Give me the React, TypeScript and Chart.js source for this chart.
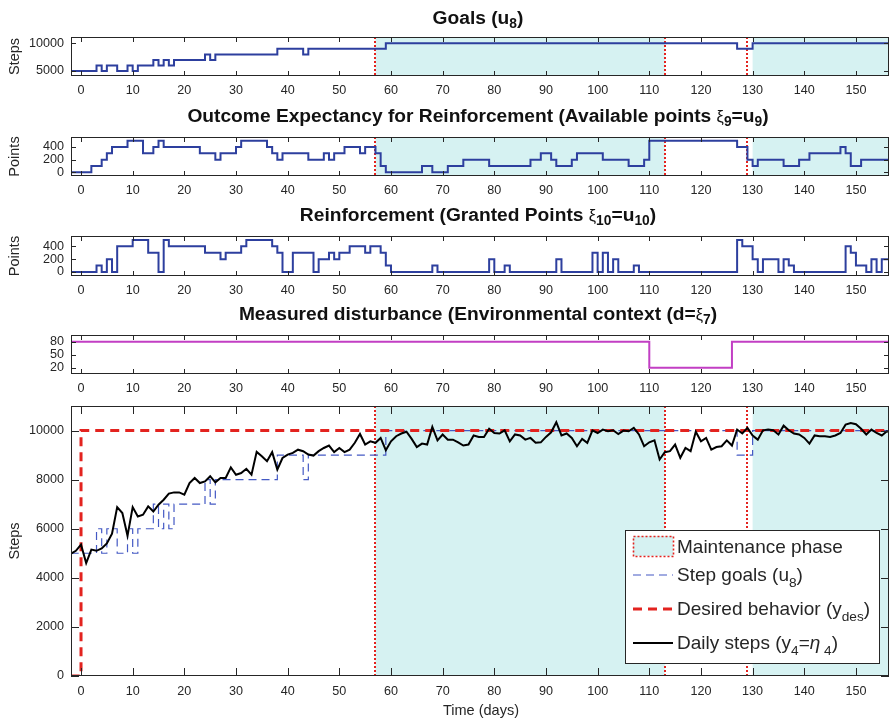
import React, { useEffect, useRef } from 'react';
import { Chart, registerables } from 'chart.js';
Chart.register(...registerables);

const FONT = '"Liberation Sans", Arial, Helvetica, sans-serif';
const INK = '#262626';
const BLUE = '#2d3f9e';
const BLUE_DASH = '#4459c4';
const MAGENTA = '#c23fc4';
const RED = '#e3231f';
const SHADE = '#d6f2f2';

const X_MIN = -1.94;
const X_MAX = 156.4;
const X_END = 157;
const xTickValues = [0, 10, 20, 30, 40, 50, 60, 70, 80, 90, 100, 110, 120, 130, 140, 150];
const maintenanceStart = [57, 130];
const maintenanceEnd = [113, 157];
const phaseLines = [57, 113, 129];

// Goals u8 (step changes: value holds from day until next day)
const goalDays = [-2, 3, 4, 5, 7, 9, 10, 11, 14, 15, 16, 17, 18, 24, 25, 26, 38, 43, 44, 59, 127, 130];
const goalValues = [5000, 6000, 5000, 6000, 5000, 6000, 5000, 6000, 7000, 6000, 7000, 6000, 7000, 8000, 7000, 8000, 9000, 8000, 9000, 10000, 9000, 10000];

// Outcome expectancy (available points)
const availDays = [-2, 2, 4, 5, 6, 9, 12, 14, 15, 16, 23, 26, 27, 30, 31, 36, 37, 38, 39, 44, 47, 48, 49, 51, 54, 55, 57, 58, 59, 66, 68, 71, 74, 79, 87, 89, 91, 92, 95, 96, 101, 106, 109, 110, 127, 129, 130, 131, 136, 139, 141, 147, 148, 149, 151];
const availValues = [0, 100, 200, 300, 400, 500, 300, 400, 500, 400, 300, 200, 300, 400, 500, 400, 300, 200, 300, 200, 300, 200, 300, 400, 300, 400, 300, 100, 0, 100, 0, 100, 200, 100, 200, 300, 200, 100, 200, 300, 200, 100, 200, 500, 400, 200, 100, 200, 100, 200, 300, 400, 300, 100, 200];

// Reinforcement (granted points)
const grantDays = [-2, 3, 4, 5, 6, 7, 10, 13, 15, 16, 17, 24, 27, 28, 31, 32, 37, 38, 39, 41, 45, 46, 48, 49, 50, 52, 55, 56, 58, 59, 60, 68, 69, 79, 80, 82, 83, 92, 93, 99, 100, 101, 102, 103, 104, 107, 108, 127, 128, 130, 131, 132, 135, 136, 137, 138, 148, 149, 150, 152, 153, 154, 155];
const grantValues = [0, 100, 0, 200, 0, 400, 500, 300, 0, 500, 400, 300, 200, 300, 400, 500, 400, 300, 0, 300, 0, 200, 300, 200, 300, 400, 300, 400, 300, 100, 0, 100, 0, 200, 0, 100, 0, 200, 0, 300, 0, 300, 0, 200, 0, 100, 0, 500, 400, 200, 0, 200, 0, 200, 100, 0, 400, 300, 100, 0, 200, 0, 200];

// Measured disturbance
const distDays = [-2, 110, 126];
const distValues = [80, 20, 80];

// Desired behavior
const desiredDays = [-2, 0];
const desiredValues = [0, 10000];

// Daily steps, one value per day starting at day -2
const stepsFirstDay = -2;
const dailySteps = [
  4980, 5100, 5350, 4600, 5150, 5100, 5200, 5400, 5800, 6880, 6640, 5710, 6880, 6500, 6570, 6910, 6700, 6980, 7180, 7430,
  7480, 7480, 7390, 7860, 8070, 7860, 7930, 8140, 7890, 8070, 8070, 8500, 8200, 8270, 8440, 8200, 9130, 8950, 8750, 9120,
  8410, 8880, 9020, 9090, 9220, 9160, 9020, 8980, 9160, 9290, 9390, 9120, 9290, 9120, 9220, 9500, 9860, 9430, 9560, 9500,
  9700, 9200, 9560, 9770, 9880, 9950, 9660, 9330, 9470, 9430, 10150, 9600, 9840, 9630, 9630, 9520, 9390, 9430, 9800, 9740,
  9740, 10070, 9900, 9880, 10010, 9560, 9840, 9800, 9630, 9700, 9500, 9520, 9740, 9930, 10340, 9800, 9880, 9700, 9360, 9660,
  9500, 10010, 9900, 10040, 9970, 10010, 9860, 10000, 9970, 10110, 9840, 9360, 9520, 9600, 8820, 9120, 9160, 9430, 8890, 9290,
  9160, 9950, 9560, 9700, 9220, 9330, 9360, 9600, 9390, 10040, 9880, 10110, 9800, 9630, 10010, 10040, 10010, 9840, 10200, 10010,
  9880, 9840, 9700, 9470, 9800, 9770, 9770, 9740, 9800, 9900, 10240, 10310, 10260, 10070, 9840, 10040, 9900, 9800, 9970, 9900,
];

type Seg = { t: string; sub?: boolean; it?: boolean; plain?: boolean; small?: boolean };

function drawRich(ctx: CanvasRenderingContext2D, segs: Seg[], x: number, yMid: number, size: number, bold: boolean, align: 'left' | 'center', color: string, subDrop = 0.25) {
  const sizeOf = (s: Seg) => (s.sub ? size * 0.72 : s.small ? size * 0.85 : size);
  const fontOf = (s: Seg) => `${s.it ? 'italic ' : ''}${bold && !s.plain ? 'bold ' : ''}${sizeOf(s)}px ${FONT}`;
  let total = 0;
  const widths = segs.map((s) => {
    ctx.font = fontOf(s);
    const w = ctx.measureText(s.t).width;
    total += w;
    return w;
  });
  let cx = align === 'center' ? x - total / 2 : x;
  const base = yMid + size * 0.36;
  ctx.fillStyle = color;
  ctx.textAlign = 'left';
  ctx.textBaseline = 'alphabetic';
  segs.forEach((s, i) => {
    ctx.font = fontOf(s);
    ctx.fillText(s.t, cx, s.sub ? base + size * subDrop : base);
    cx += widths[i];
  });
}

function stairs(days: number[], values: number[]) {
  const pts = days.map((d, i) => ({ x: d, y: values[i] }));
  pts.push({ x: X_END, y: values[values.length - 1] });
  return pts;
}

interface PanelDef {
  top: number;
  plotTop: number;
  plotBottom: number;
  xAxisH: number;
  xPad: number;
  yMin: number;
  yMax: number;
  yTicks: number[];
  title?: Seg[];
  titleY?: number;
  yLabel?: string;
  shade: boolean;
  tickLen: number;
  datasets: any[];
  legend?: boolean;
  xTitle?: string;
}

function decor(def: PanelDef) {
  return {
    id: 'decor',
    beforeDatasetsDraw(chart: any) {
      const { ctx, chartArea: a } = chart;
      const x = chart.scales.x;
      if (!def.shade) return;
      ctx.save();
      ctx.fillStyle = SHADE;
      maintenanceStart.forEach((s, i) => {
        const x0 = Math.max(a.left, x.getPixelForValue(s));
        const x1 = Math.min(a.right, x.getPixelForValue(maintenanceEnd[i]));
        ctx.fillRect(x0, a.top, x1 - x0, a.bottom - a.top);
      });
      ctx.strokeStyle = RED;
      ctx.lineWidth = 2;
      ctx.setLineDash([2, 2]);
      phaseLines.forEach((d) => {
        const px = Math.round(x.getPixelForValue(d));
        ctx.beginPath();
        ctx.moveTo(px, a.top);
        ctx.lineTo(px, a.bottom);
        ctx.stroke();
      });
      ctx.restore();
    },
    afterDatasetsDraw(chart: any) {
      const { ctx, chartArea: a } = chart;
      const x = chart.scales.x;
      const y = chart.scales.y;
      ctx.save();
      ctx.strokeStyle = INK;
      ctx.lineWidth = 1;
      ctx.setLineDash([]);
      ctx.strokeRect(a.left + 0.5, a.top + 0.5, a.right - a.left - 1, a.bottom - a.top - 1);
      const L = def.tickLen;
      ctx.beginPath();
      xTickValues.forEach((v) => {
        const px = Math.round(x.getPixelForValue(v)) + 0.5;
        ctx.moveTo(px, a.bottom);
        ctx.lineTo(px, a.bottom - L);
        ctx.moveTo(px, a.top);
        ctx.lineTo(px, a.top + L);
      });
      def.yTicks.forEach((v) => {
        const py = Math.round(y.getPixelForValue(v)) + 0.5;
        ctx.moveTo(a.left, py);
        ctx.lineTo(a.left + L, py);
        ctx.moveTo(a.right, py);
        ctx.lineTo(a.right - L, py);
      });
      ctx.stroke();
      ctx.restore();
    },
    afterDraw(chart: any) {
      const { ctx, chartArea: a } = chart;
      const T = def.top;
      ctx.save();
      if (def.title && def.titleY !== undefined) {
        drawRich(ctx, def.title, (a.left + a.right) / 2 - 2, def.titleY - T, 19.2, true, 'center', '#111', 0.22);
      }
      if (def.yLabel) {
        ctx.save();
        ctx.translate(15, (a.top + a.bottom) / 2);
        ctx.rotate(-Math.PI / 2);
        ctx.font = `14.5px ${FONT}`;
        ctx.textAlign = 'center';
        ctx.textBaseline = 'middle';
        ctx.fillStyle = INK;
        ctx.fillText(def.yLabel, 0, 0);
        ctx.restore();
      }
      if (def.xTitle) {
        ctx.font = `14.5px ${FONT}`;
        ctx.textAlign = 'center';
        ctx.textBaseline = 'middle';
        ctx.fillStyle = INK;
        ctx.fillText(def.xTitle, 481, 711 - T);
      }
      if (def.legend) {
        const bx = 625.5, by = 530.5 - T, bw = 254, bh = 133;
        ctx.fillStyle = '#fff';
        ctx.fillRect(bx, by, bw, bh);
        ctx.strokeStyle = INK;
        ctx.lineWidth = 1;
        ctx.setLineDash([]);
        ctx.strokeRect(bx, by, bw, bh);
        // maintenance sample
        ctx.fillStyle = SHADE;
        ctx.fillRect(633, 536 - T, 40, 20);
        ctx.strokeStyle = RED;
        ctx.lineWidth = 1.6;
        ctx.setLineDash([2, 2]);
        ctx.strokeRect(633.5, 536.5 - T, 40, 20);
        const sample = (yy: number, color: string, w: number, dash: number[]) => {
          ctx.beginPath();
          ctx.strokeStyle = color;
          ctx.lineWidth = w;
          ctx.setLineDash(dash);
          ctx.moveTo(633, yy - T);
          ctx.lineTo(673, yy - T);
          ctx.stroke();
        };
        sample(575, BLUE_DASH, 1.2, [8, 5]);
        sample(609, RED, 3, [9, 6]);
        sample(643, '#000', 2, []);
        ctx.setLineDash([]);
        const fs = 19;
        drawRich(ctx, [{ t: 'Maintenance phase' }], 677, 546 - T, fs, false, 'left', INK);
        drawRich(ctx, [{ t: 'Step goals (u' }, { t: '8', sub: true }, { t: ')' }], 677, 574 - T, fs, false, 'left', INK, 0.32);
        drawRich(ctx, [{ t: 'Desired behavior (y' }, { t: 'des', sub: true }, { t: ')' }], 677, 608 - T, fs, false, 'left', INK, 0.32);
        drawRich(ctx, [{ t: 'Daily steps (y' }, { t: '4', sub: true }, { t: '=' }, { t: 'η', it: true }, { t: ' 4', sub: true }, { t: ')' }], 677, 642 - T, fs, false, 'left', INK, 0.32);
      }
      ctx.restore();
    },
  };
}

function Panel({ def }: { def: PanelDef }) {
  const ref = useRef<HTMLCanvasElement>(null);
  const height = def.plotBottom - def.top + def.xAxisH;
  useEffect(() => {
    const chart = new Chart(ref.current as HTMLCanvasElement, {
      type: 'line',
      data: { datasets: def.datasets },
      options: {
        animation: false,
        responsive: false,
        maintainAspectRatio: false,
        devicePixelRatio: 1,
        layout: { padding: { top: def.plotTop - def.top, left: 0, right: 1, bottom: 0 } },
        plugins: { legend: { display: false }, tooltip: { enabled: false }, title: { display: false } },
        elements: { point: { radius: 0 }, line: { tension: 0 } },
        scales: {
          x: {
            type: 'linear',
            min: X_MIN,
            max: X_MAX,
            grid: { display: false, drawTicks: false },
            border: { display: false },
            afterBuildTicks: (s: any) => {
              s.ticks = xTickValues.map((v) => ({ value: v }));
            },
            afterFit: (s: any) => {
              s.height = def.xAxisH;
              s.paddingLeft = 0;
              s.paddingRight = 0;
            },
            ticks: {
              padding: def.xPad,
              autoSkip: false,
              maxRotation: 0,
              color: INK,
              font: { family: FONT, size: 12.6 },
              callback: (v: any) => String(v),
            },
          },
          y: {
            type: 'linear',
            min: def.yMin,
            max: def.yMax,
            grid: { display: false, drawTicks: false },
            border: { display: false },
            afterBuildTicks: (s: any) => {
              s.ticks = def.yTicks.map((v) => ({ value: v }));
            },
            afterFit: (s: any) => {
              s.width = 71;
              s.paddingTop = 0;
              s.paddingBottom = 0;
            },
            ticks: {
              padding: 7,
              autoSkip: false,
              color: INK,
              font: { family: FONT, size: 12.6 },
              callback: (v: any) => String(v),
            },
          },
        },
      } as any,
      plugins: [decor(def) as any],
    });
    return () => chart.destroy();
  }, []);
  return (
    <canvas
      ref={ref}
      width={890}
      height={height}
      style={{ position: 'absolute', left: 0, top: def.top, width: 890, height, display: 'block' }}
    />
  );
}

const stepLine = (data: any[], color: string, width: number, extra: any = {}) => ({
  data,
  borderColor: color,
  backgroundColor: color,
  borderWidth: width,
  stepped: 'before',
  pointRadius: 0,
  fill: false,
  ...extra,
});

const panels: PanelDef[] = [
  {
    top: 0, plotTop: 37, plotBottom: 76, xAxisH: 26, xPad: 7,
    yMin: 4100, yMax: 11140, yTicks: [5000, 10000],
    title: [{ t: 'Goals (u' }, { t: '8', sub: true }, { t: ')' }], titleY: 17,
    yLabel: 'Steps', shade: true, tickLen: 5,
    datasets: [stepLine(stairs(goalDays, goalValues), BLUE, 2)],
  },
  {
    top: 100, plotTop: 137, plotBottom: 176, xAxisH: 26, xPad: 7,
    yMin: -58, yMax: 558, yTicks: [0, 200, 400],
    title: [
      { t: 'Outcome Expectancy for Reinforcement (Available points ' },
      { t: 'ξ', plain: true, small: true },
      { t: '9', sub: true },
      { t: '=u' },
      { t: '9', sub: true },
      { t: ')' },
    ],
    titleY: 115,
    yLabel: 'Points', shade: true, tickLen: 5,
    datasets: [stepLine(stairs(availDays, availValues), BLUE, 2)],
  },
  {
    top: 205, plotTop: 236, plotBottom: 276, xAxisH: 26, xPad: 7,
    yMin: -64, yMax: 562, yTicks: [0, 200, 400],
    title: [
      { t: 'Reinforcement (Granted Points ' },
      { t: 'ξ', plain: true, small: true },
      { t: '10', sub: true },
      { t: '=u' },
      { t: '10', sub: true },
      { t: ')' },
    ],
    titleY: 214,
    yLabel: 'Points', shade: false, tickLen: 5,
    datasets: [stepLine(stairs(grantDays, grantValues), BLUE, 2)],
  },
  {
    top: 298, plotTop: 335, plotBottom: 374, xAxisH: 26, xPad: 7,
    yMin: 5.4, yMax: 95.5, yTicks: [20, 50, 80],
    title: [
      { t: 'Measured disturbance (Environmental context (d=' },
      { t: 'ξ', plain: true, small: true },
      { t: '7', sub: true },
      { t: ')' },
    ],
    titleY: 313,
    shade: false, tickLen: 5,
    datasets: [stepLine(stairs(distDays, distValues), MAGENTA, 2)],
  },
  {
    top: 398, plotTop: 406, plotBottom: 676, xAxisH: 43, xPad: 8,
    yMin: 0, yMax: 11000, yTicks: [0, 2000, 4000, 6000, 8000, 10000],
    yLabel: 'Steps', shade: true, tickLen: 8, legend: true, xTitle: 'Time (days)',
    datasets: [
      {
        data: dailySteps.map((v, i) => ({ x: stepsFirstDay + i, y: v })),
        borderColor: '#000',
        borderWidth: 2,
        pointRadius: 0,
        fill: false,
        order: 0,
      },
      stepLine(stairs(desiredDays, desiredValues), RED, 3, { borderDash: [9, 6], order: 1 }),
      stepLine(stairs(goalDays, goalValues), BLUE_DASH, 1.2, { borderDash: [8, 5], order: 2 }),
    ],
  },
];

export default function App() {
  return (
    <div style={{ position: 'absolute', left: 0, top: 0, width: 890, height: 719, background: '#fff', overflow: 'hidden' }}>
      {panels.map((p, i) => (
        <Panel key={i} def={p} />
      ))}
    </div>
  );
}
